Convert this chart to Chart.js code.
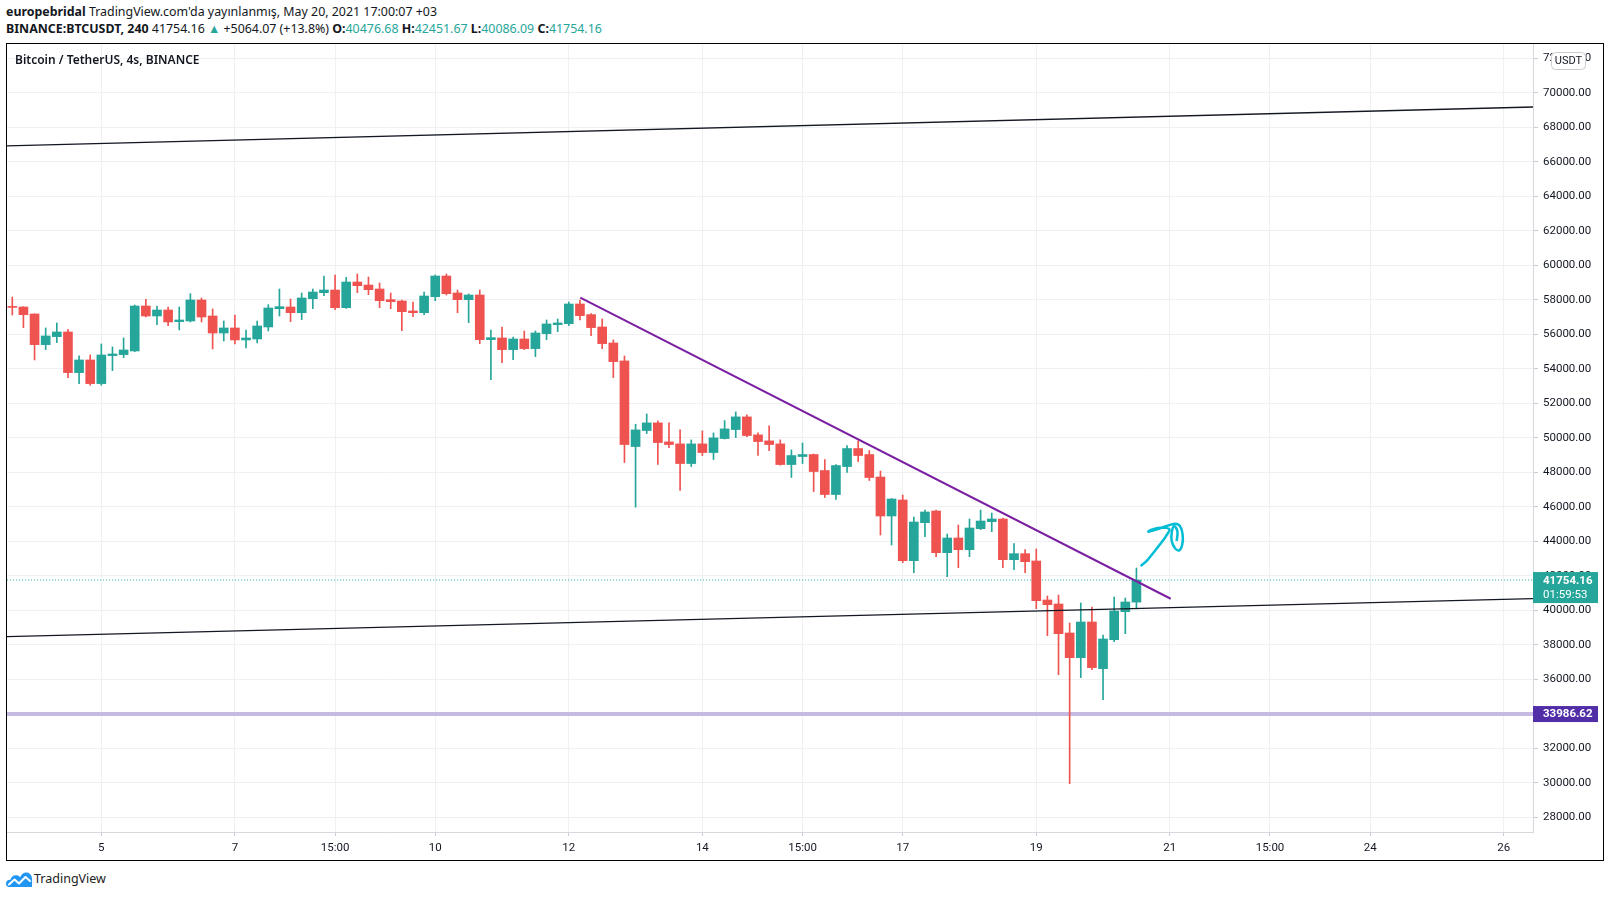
<!DOCTYPE html>
<html>
<head>
<meta charset="utf-8">
<script src="https://cdn.jsdelivr.net/npm/chart.js@4.4.1/dist/chart.umd.min.js"></script>
<style>
  body { margin: 0; width: 1610px; height: 897px; background: #fff; position: relative; overflow: hidden;
         font-family: "Noto Sans", sans-serif; color: #131722; }
  .hdr { position: absolute; left: 6px; font-size: 12.4px; line-height: 16px; white-space: nowrap; }
  .hdr b { font-weight: 700; }
  .v { color: #26a69a; }
  #frame { position: absolute; left: 6px; top: 43px; width: 1596px; height: 816px; border: 1px solid #000; }
  #title { position: absolute; left: 8px; top: 8px; font-size: 12px; font-weight: 600; line-height: 16px; }
  #logo { position: absolute; left: 6px; top: 870px; display: flex; align-items: center; font-size: 12.5px; color: #222; }
  #logo svg { margin-right: 2px; }
</style>
</head>
<body>
<div class="hdr" style="top:4px"><b>europebridal</b> TradingView.com'da yayınlanmış, May 20, 2021 17:00:07 +03</div>
<div class="hdr" style="top:21px"><b>BINANCE:BTCUSDT, 240</b> 41754.16 <span class="v">▲</span> +5064.07 (+13.8%) <b>O:</b><span class="v">40476.68</span> <b>H:</b><span class="v">42451.67</span> <b>L:</b><span class="v">40086.09</span> <b>C:</b><span class="v">41754.16</span></div>
<div id="frame">
  <canvas id="chart" width="1596" height="816" style="width:1596px;height:816px"></canvas>
  <div id="title">Bitcoin / TetherUS, 4s, BINANCE</div>
</div>
<div id="logo">
  <svg width="26" height="16" viewBox="0 0 26 16">
    <path d="M3.5 16 C0.5 16 0 13.5 0 12.5 C0 10 2 8.5 4.5 8.8 C5 5.5 7.5 3.8 10.5 4.2 C12.5 4.5 13.5 5.5 14.2 6.3 C15.5 2.5 18.5 1 21 1.5 C24.5 2.2 26 5 26 8 L26 16 Z" fill="#2196f3"/>
    <polyline points="3,13.5 8.5,8.5 13,12.5 19.5,6 24,10" fill="none" stroke="#fff" stroke-width="2" stroke-linejoin="round" stroke-linecap="round"/>
  </svg>
  <span>TradingView</span>
</div>
<script>
// 4h candles, May 3 19:00 ... May 20 15:00 (+03)
const opens = [57620, 57584, 57179, 55402, 55866, 56136, 53780, 54514, 53143, 54765,
  54823, 55035, 57642, 57063, 57410, 56735, 56773, 57990, 57063, 56078,
  56368, 55673, 55730, 56426, 57488, 57585, 57256, 58067, 58415, 58569,
  57546, 59033, 58859, 58627, 58009, 57932, 57353, 57256, 58183, 59380,
  58396, 58009, 58280, 55692, 55789, 55113, 55731, 55171, 56040, 56561,
  56619, 57759, 57141, 56426, 55499, 54457, 49494, 50421, 50865, 49764,
  49648, 48509, 49648, 49146, 49957, 50479, 51213, 50170, 49822, 49648,
  48451, 48915, 49031, 48104, 46713, 48335, 49378, 49031, 47728, 45468,
  46395, 42879, 45082, 45758, 43343, 44193, 43517, 44734, 45140, 45294,
  42937, 43285, 42859, 40598, 40367, 38686, 37256, 39323, 36619, 38300,
  39923, 40476.68];
const highs = [58163, 57600, 57190, 56368, 56657, 56290, 54746, 54804, 55441, 55267,
  55788, 57700, 58028, 57642, 57584, 57584, 58357, 58106, 57468, 56773,
  57121, 56252, 56773, 57719, 58627, 58048, 58396, 58627, 59380, 59438,
  59303, 59496, 59322, 58975, 58396, 57990, 57874, 58453, 59438, 59496,
  58569, 58338, 58569, 56252, 56426, 55847, 56194, 56194, 56831, 56889,
  57874, 57990, 57199, 56890, 55673, 54746, 50788, 51386, 50981, 50865,
  50459, 49880, 50402, 50286, 51000, 51502, 51328, 50286, 50691, 49880,
  49301, 49706, 49060, 48741, 48451, 49552, 49822, 49262, 48076, 46480,
  46685, 45410, 45816, 45816, 44425, 44946, 45294, 45816, 45642, 45352,
  43864, 43517, 43555, 40830, 40888, 39265, 40425, 40193, 38570, 40773,
  40715, 42451.67];
const lows = [57121, 56387, 54514, 55113, 55518, 53490, 53143, 53046, 53046, 53896,
  54649, 54997, 57005, 56561, 56503, 56252, 56715, 56715, 55151, 55615,
  55441, 55209, 55499, 56194, 57063, 56735, 56851, 57488, 58241, 57430,
  57500, 58415, 58299, 57546, 57488, 56213, 57024, 57140, 57951, 58280,
  57256, 56677, 55460, 53375, 54360, 54534, 55113, 54707, 55692, 56155,
  56503, 56832, 55924, 55171, 53491, 48567, 45980, 50247, 48451, 49436,
  46945, 48335, 48973, 48741, 49930, 50015, 50073, 48973, 49262, 48413,
  47698, 48509, 46887, 46540, 46424, 47987, 48625, 47524, 44367, 43787,
  42763, 42184, 44270, 43111, 41952, 42474, 43111, 44676, 44560, 42474,
  42358, 42184, 40096, 38531, 36271, 29954, 36097, 36561, 34822, 38184,
  38647, 40086.09];
const closes = [57560, 57140, 55402, 55904, 56136, 53780, 54514, 53143, 54804, 54862,
  55093, 57642, 57063, 57410, 56715, 56831, 57990, 57005, 56078, 56368,
  55673, 55788, 56484, 57526, 57604, 57256, 58106, 58453, 58569, 57546,
  59033, 58820, 58589, 57951, 57893, 57314, 57256, 58222, 59380, 58357,
  58009, 58280, 55692, 55808, 55113, 55731, 55171, 56078, 56600, 56658,
  57758, 57083, 56388, 55461, 54418, 49610, 50459, 50865, 49726, 49610,
  48509, 49648, 49146, 49996, 50517, 51213, 50131, 49784, 49610, 48451,
  48973, 49031, 48046, 46713, 48393, 49378, 48973, 47698, 45468, 46453,
  42879, 45120, 45700, 43343, 44193, 43517, 44773, 45178, 45294, 42937,
  43285, 42821, 40560, 40328, 38647, 37256, 39323, 36677, 38338, 39961,
  40483, 41754.16];

// time axis: candle index of each label
const xTickIdx = [8, 20, 29, 38, 50, 62, 71, 80, 92, 104, 113, 122, 134];
const xTickLabels = ['5', '7', '15:00', '10', '12', '14', '15:00', '17', '19', '21', '15:00', '24', '26'];
const yTicks = [28000, 30000, 32000, 34000, 36000, 38000, 40000, 42000, 44000, 46000, 48000,
  50000, 52000, 54000, 56000, 58000, 60000, 62000, 64000, 66000, 68000, 70000, 72000];

// drawings (candle index, price)
const channelX = [-1, 137];
const upperChannelY = [66918, 69183];
const lowerChannelY = [38462, 40679];
const trendX = [51.03, 104.08];
const trendY = [58122, 40670];
const supportPrice = 33986.62;
const lastPrice = 41754.16;
const countdown = '01:59:53';
const scribbleX = [101.38, 101.92, 102.52, 103.12, 103.66, 103.96, 103.12, 102.22, 102.07, 102.82, 103.72,
  104.47, 104.91, 105.15, 105.12, 104.85, 104.47, 104.17, 104.17, 104.38, 104.68, 104.62];
const scribbleY = [42570, 42860, 43340, 43825, 44305, 44695, 44790, 44635, 44560, 44695, 44885,
  45020, 44885, 44405, 43825, 43475, 43595, 44020, 44500, 44885, 44595, 44020];

const UP = '#26a69a';
const DOWN = '#ef5350';
const candleColors = opens.map((o, i) => closes[i] >= o ? UP : DOWN);
const toPts = (xs, ys) => xs.map((x, i) => ({ x: x, y: ys[i] }));
const flat = (xs, v) => xs.map(x => ({ x: x, y: v }));
// keep chart area fixed: drop the label overhang padding chart.js adds
const noPad = s => { s.paddingTop = 0; s.paddingBottom = 0; s.paddingLeft = 0; s.paddingRight = 0; };

const tagPlugin = {
  id: 'tags',
  afterDraw(chart) {
    const ctx = chart.ctx;
    const x0 = chart.chartArea.right;
    const y = chart.scales.y;
    ctx.save();
    ctx.textBaseline = 'middle';
    ctx.textAlign = 'left';
    // last price tag
    let py = y.getPixelForValue(lastPrice);
    ctx.fillStyle = UP;
    ctx.fillRect(x0, py - 8, 65, 31);
    ctx.fillStyle = '#fff';
    ctx.font = 'bold 11.5px Roboto';
    ctx.fillText(lastPrice.toFixed(2), x0 + 10, py + 1);
    ctx.font = '11.5px Roboto';
    ctx.fillText(countdown, x0 + 10, py + 15);
    // horizontal line tag
    py = y.getPixelForValue(supportPrice);
    ctx.fillStyle = '#512da8';
    ctx.fillRect(x0, py - 8, 65, 16);
    ctx.fillStyle = '#fff';
    ctx.font = 'bold 11.5px Roboto';
    ctx.fillText(supportPrice.toFixed(2), x0 + 10, py + 0.5);
    // currency box
    ctx.beginPath();
    ctx.roundRect(x0 + 18.5, 8.5, 34, 17, 4);
    ctx.fillStyle = '#fff';
    ctx.fill();
    ctx.strokeStyle = '#c9ccd3';
    ctx.lineWidth = 1;
    ctx.stroke();
    ctx.fillStyle = '#131722';
    ctx.font = '11px Roboto';
    ctx.textAlign = 'center';
    ctx.fillText('USDT', x0 + 35.5, 17.5);
    ctx.restore();
  }
};

new Chart(document.getElementById('chart'), {
  type: 'bar',
  data: {
    datasets: [
      { type: 'line', data: toPts(scribbleX, scribbleY), borderColor: '#00bcd4', borderWidth: 2.5,
        tension: 0.35, pointRadius: 0, fill: false },
      { type: 'line', data: toPts(trendX, trendY), borderColor: '#7b1fa2', borderWidth: 2,
        pointRadius: 0, fill: false },
      { type: 'line', data: toPts(channelX, upperChannelY), borderColor: '#131722', borderWidth: 1.3,
        pointRadius: 0, fill: false },
      { type: 'line', data: toPts(channelX, lowerChannelY), borderColor: '#131722', borderWidth: 1.3,
        pointRadius: 0, fill: false },
      { label: 'body', data: opens.map((o, i) => ({ x: i, y: [o, closes[i]] })),
        backgroundColor: candleColors, barThickness: 9, minBarLength: 1, grouped: false, borderWidth: 0 },
      { label: 'wick', data: lows.map((l, i) => ({ x: i, y: [l, highs[i]] })),
        backgroundColor: candleColors, barThickness: 1, grouped: false, borderWidth: 0 },
      { type: 'line', data: flat(channelX, lastPrice), borderColor: UP, borderWidth: 1,
        borderDash: [1, 2], pointRadius: 0, fill: false },
      { type: 'line', data: flat(channelX, supportPrice), borderColor: '#c6b9e2', borderWidth: 4,
        pointRadius: 0, fill: false }
    ]
  },
  options: {
    responsive: false,
    animation: false,
    devicePixelRatio: 1,
    layout: { padding: 0 },
    plugins: { legend: { display: false }, tooltip: { enabled: false } },
    scales: {
      x: {
        type: 'linear',
        min: -0.476,
        max: 136.63,
        offset: false,
        afterBuildTicks: s => { s.ticks = xTickIdx.map(v => ({ value: v })); },
        afterFit: s => { s.height = 28; noPad(s); },
        ticks: {
          autoSkip: false, maxRotation: 0, padding: 5, color: '#131722',
          font: { family: 'Roboto', size: 11.5 },
          callback: v => xTickLabels[xTickIdx.indexOf(v)]
        },
        grid: { color: '#eef0f3', offset: false, tickLength: 4, tickColor: '#c9ccd3' },
        border: { color: '#d6d8de' }
      },
      y: {
        position: 'right',
        min: 27149,
        max: 72830,
        afterBuildTicks: s => { s.ticks = yTicks.map(v => ({ value: v })); },
        afterFit: s => { s.width = 70; noPad(s); },
        ticks: {
          autoSkip: false, padding: 5, color: '#131722',
          font: { family: 'Roboto', size: 11.5 },
          callback: v => v.toFixed(2)
        },
        grid: { color: '#eef0f3', tickLength: 5, tickColor: '#c9ccd3' },
        border: { color: '#d6d8de' }
      }
    }
  },
  plugins: [tagPlugin]
});
</script>
</body>
</html>
